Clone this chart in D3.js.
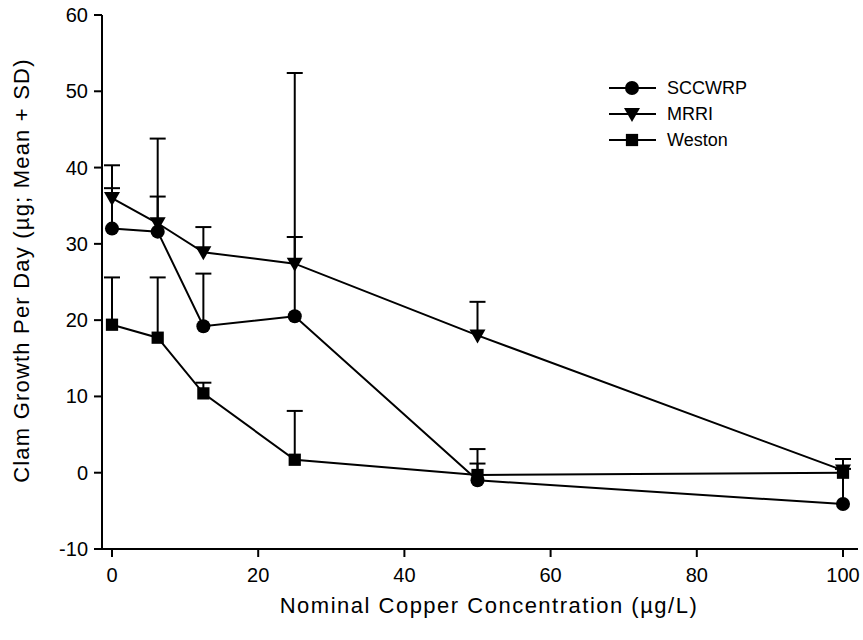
<!DOCTYPE html>
<html><head><meta charset="utf-8">
<script src="https://cdn.jsdelivr.net/npm/d3@7"></script>
<style>body{margin:0;background:#fff}svg{display:block}text{font-family:"Liberation Sans",Arial,sans-serif;fill:#000}</style>
</head><body>
<script>
const conc = [0, 6.25, 12.5, 25, 50, 100];
const seriesNames = ["SCCWRP", "MRRI", "Weston"];
const sccwrpMean = [32.0, 31.6, 19.2, 20.5, -1.0, -4.1];
const sccwrpSD   = [5.3, 4.6, 6.9, 10.4, 4.1, 4.6];
const mrriMean   = [36.0, 32.7, 28.9, 27.4, 18.0, 0.3];
const mrriSD     = [4.3, 11.1, 3.3, 25.0, 4.4, 1.5];
const westonMean = [19.4, 17.7, 10.4, 1.7, -0.3, 0.0];
const westonSD   = [6.2, 7.9, 1.4, 6.4, 1.5, 1.8];
const xTicks = [0, 20, 40, 60, 80, 100];
const yTicks = [-10, 0, 10, 20, 30, 40, 50, 60];
const xTitle = "Nominal Copper Concentration (µg/L)";
const yTitle = "Clam Growth Per Day (µg; Mean + SD)";

const W = 863, H = 640;
const svg = d3.select("body").append("svg").attr("width", W).attr("height", H);
const x = d3.scaleLinear().domain([0, 100]).range([112, 843]);
const y = d3.scaleLinear().domain([-10, 60]).range([549, 15]);
const x0 = 102, xEnd = 858;

const series = [
  {name: seriesNames[0], mean: sccwrpMean, sd: sccwrpSD, sym: d3.symbolCircle, size: 155},
  {name: seriesNames[1], mean: mrriMean, sd: mrriSD, sym: "tri", size: 0},
  {name: seriesNames[2], mean: westonMean, sd: westonSD, sym: d3.symbolSquare, size: 150}
];

function drawMarker(g, s, cx, cy) {
  if (s.sym === "tri") {
    g.append("path").attr("d", `M${cx-8},${cy-6}L${cx+8},${cy-6}L${cx},${cy+8}Z`).attr("fill", "#000");
  } else {
    g.append("path").attr("d", d3.symbol().type(s.sym).size(s.size)()).attr("transform", `translate(${cx},${cy})`).attr("fill", "#000");
  }
}

// axes
const ax = svg.append("g").attr("stroke", "#000").attr("stroke-width", 2).attr("fill", "none");
ax.append("line").attr("x1", x0).attr("x2", x0).attr("y1", y(60)).attr("y2", y(-10));
ax.append("line").attr("x1", x0 - 1).attr("x2", xEnd).attr("y1", y(-10)).attr("y2", y(-10));
yTicks.forEach(t => ax.append("line").attr("x1", x0 - 8).attr("x2", x0).attr("y1", y(t)).attr("y2", y(t)));
xTicks.forEach(t => ax.append("line").attr("x1", x(t)).attr("x2", x(t)).attr("y1", y(-10)).attr("y2", y(-10) + 8));

svg.append("g").selectAll("text").data(yTicks).join("text")
  .attr("x", x0 - 14).attr("y", d => y(d)).attr("dy", "0.35em").attr("text-anchor", "end")
  .attr("font-size", 20).text(d => d);
svg.append("g").selectAll("text").data(xTicks).join("text")
  .attr("x", d => x(d)).attr("y", 582).attr("text-anchor", "middle")
  .attr("font-size", 20).text(d => d);

svg.append("text").attr("x", 489).attr("y", 613).attr("text-anchor", "middle")
  .attr("font-size", 22).attr("letter-spacing", 1.5).text(xTitle);
svg.append("text").attr("transform", `translate(29,${y(26.5)}) rotate(-90)`).attr("text-anchor", "middle")
  .attr("font-size", 22).attr("letter-spacing", 1.2).text(yTitle);

// series
const lineGen = d3.line().x(d => x(d[0])).y(d => y(d[1]));
series.forEach(s => {
  const g = svg.append("g");
  const pts = conc.map((c, i) => [c, s.mean[i]]);
  conc.forEach((c, i) => {
    const cx = x(c), top = y(s.mean[i] + s.sd[i]);
    g.append("line").attr("x1", cx).attr("x2", cx).attr("y1", y(s.mean[i])).attr("y2", top).attr("stroke", "#000").attr("stroke-width", 2);
    g.append("line").attr("x1", cx - 8).attr("x2", cx + 8).attr("y1", top).attr("y2", top).attr("stroke", "#000").attr("stroke-width", 2);
  });
  g.append("path").attr("d", lineGen(pts)).attr("fill", "none").attr("stroke", "#000").attr("stroke-width", 2);
  pts.forEach(p => drawMarker(g, s, x(p[0]), y(p[1])));
});

// legend
const lg = svg.append("g");
series.forEach((s, i) => {
  const ly = 88 + i * 26;
  lg.append("line").attr("x1", 609).attr("x2", 656).attr("y1", ly).attr("y2", ly).attr("stroke", "#000").attr("stroke-width", 2);
  drawMarker(lg, s, 632, ly);
  lg.append("text").attr("x", 667).attr("y", ly).attr("dy", "0.35em").attr("font-size", 18).text(s.name);
});
</script>
</body></html>
